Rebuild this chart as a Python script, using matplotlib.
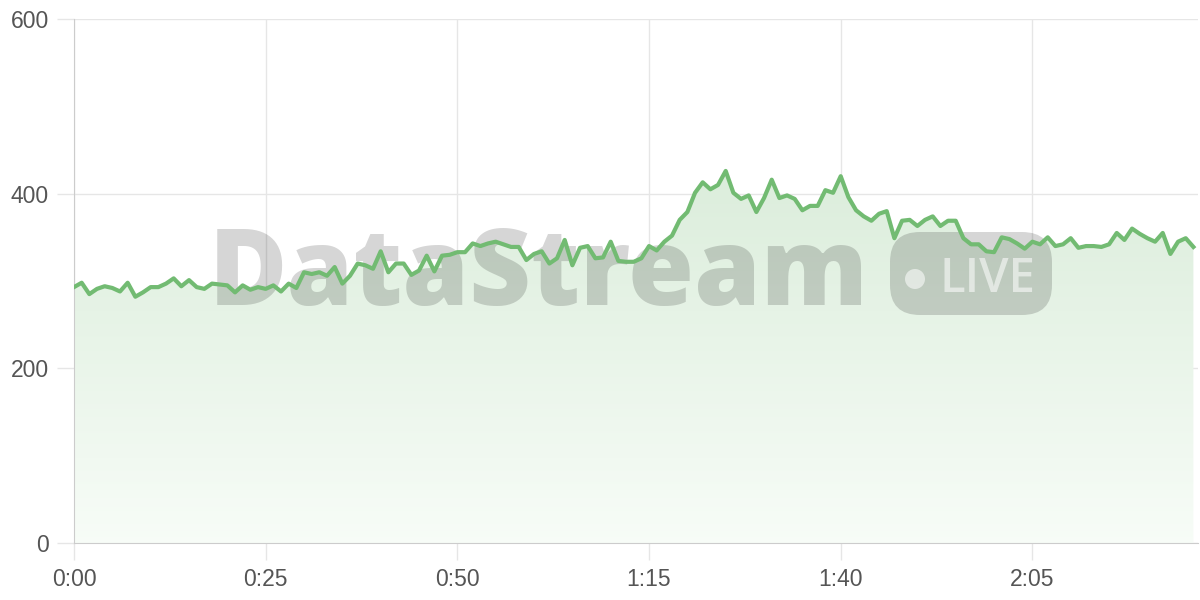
import numpy as np
import matplotlib
matplotlib.use("Agg")
import matplotlib.pyplot as plt
from matplotlib.patches import FancyBboxPatch, Circle

# one reading per second
values = [293, 298, 285, 291, 294, 292, 288, 298, 282, 287,
          293, 293, 297, 303, 294, 301, 293, 291, 297, 296,
          295, 287, 295, 290, 293, 291, 295, 288, 297, 292,
          310, 308, 310, 306, 316, 297, 306, 320, 318, 314,
          334, 310, 320, 320, 307, 312, 329, 311, 329, 330,
          333, 333, 343, 340, 343, 345, 342, 339, 339, 324,
          331, 334, 320, 326, 347, 318, 338, 340, 326, 327,
          345, 323, 322, 322, 326, 340, 335, 345, 352, 370,
          379, 401, 413, 405, 410, 426, 401, 394, 398, 379,
          395, 416, 395, 398, 394, 381, 386, 386, 404, 401,
          420, 396, 381, 374, 369, 377, 380, 349, 369, 370,
          363, 370, 374, 363, 369, 369, 349, 342, 342, 334,
          333, 350, 348, 343, 337, 345, 342, 350, 340, 342,
          349, 338, 340, 340, 339, 342, 355, 347, 360, 354,
          349, 345, 355, 331, 345, 349, 339]
seconds = list(range(len(values)))

x_ticks = [0, 25, 50, 75, 100, 125]
x_labels = ["0:00", "0:25", "0:50", "1:15", "1:40", "2:05"]
y_ticks = [0, 200, 400, 600]

line_color = "#72bb72"
grid_color = "#e6e6e6"
text_color = "#555555"

plt.rcParams["font.family"] = ["Liberation Sans", "DejaVu Sans"]

fig = plt.figure(figsize=(12, 6), dpi=100)
ax = fig.add_axes([74 / 1200, 57 / 600, 1124 / 1200, 524 / 600])

ax.set_xlim(0, 146.6)
ax.set_ylim(0, 600)

# gradient fill under the line
poly = ax.fill_between(seconds, values, 0, color="none", lw=0)
grad = np.linspace(0, 1, 256).reshape(-1, 1)
cmap = matplotlib.colors.LinearSegmentedColormap.from_list(
    "g", [(0.86, 0.93, 0.86, 1.0), (0.97, 0.99, 0.97, 1.0)])
img = ax.imshow(grad, cmap=cmap, aspect="auto", extent=[0, 146.6, 0, 430],
                origin="upper", zorder=1)
img.set_clip_path(poly.get_paths()[0], transform=ax.transData)

ax.plot(seconds, values, color=line_color, lw=3, zorder=4,
        solid_joinstyle="round")

ax.set_xticks(x_ticks)
ax.set_xticklabels(x_labels)
ax.set_yticks(y_ticks)
ax.grid(True, color=grid_color, lw=1, zorder=0)
ax.set_axisbelow(True)
ax.tick_params(axis="both", length=12, width=1, color=grid_color,
               labelcolor=text_color, labelsize=16.5, pad=6)
for s in ["top", "right"]:
    ax.spines[s].set_visible(False)
ax.spines["left"].set_color("#cccccc")
ax.spines["bottom"].set_color("#cccccc")

# watermark, behind the line
px = fig.dpi_scale_trans  # inches
ax.text(2.09, 6 - 2.78, "DataStream", fontsize=77, fontweight="heavy",
        family=["Open Sans", "DejaVu Sans"], color="#000000", alpha=0.16,
        ha="left", va="center", transform=px, zorder=2, clip_on=False)
pill = FancyBboxPatch((8.90, 6 - 3.15), 1.62, 0.83,
                      boxstyle="round,pad=0,rounding_size=0.3",
                      transform=px, facecolor="#000000",
                      alpha=0.16, lw=0, zorder=2, clip_on=False)
ax.add_patch(pill)
dot = Circle((9.15, 6 - 2.79), 0.10, transform=px, facecolor="white",
             alpha=0.55, lw=0, zorder=3, clip_on=False)
ax.add_patch(dot)
ax.text(9.39, 6 - 2.80, "LIVE", fontsize=34, fontweight="semibold",
        family=["Open Sans", "DejaVu Sans"], color="white", alpha=0.55,
        ha="left", va="center", transform=px, zorder=3, clip_on=False)

fig.savefig("out.png", dpi=100)
